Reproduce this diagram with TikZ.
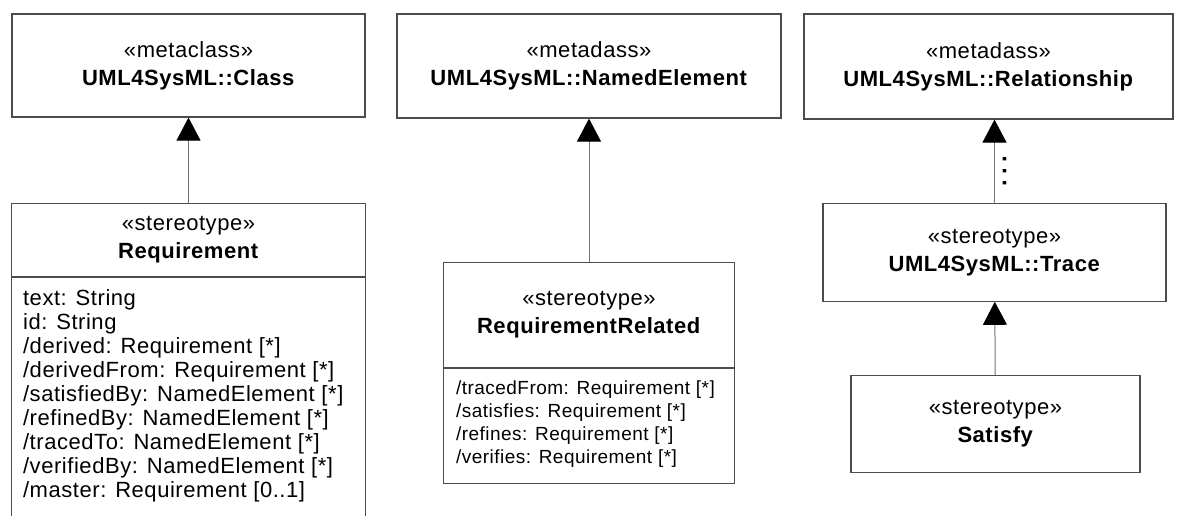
\documentclass[tikz,border=0pt]{standalone}
\usepackage{fontspec}
\setmainfont{Liberation Sans}[LetterSpace=2.5]
\usetikzlibrary{arrows.meta, positioning}
\tikzset{
  umlbox/.style={draw=black!70, line width=1.2pt, fill=white, align=center,
    inner sep=0pt, font=\fontsize{22}{28}\selectfont},
  umlpart/.style={draw=black!70, line width=1.2pt, inner sep=0pt},
  umlattr/.style={align=left, inner xsep=12pt, inner ysep=13pt,
    font=\fontsize{22}{24}\selectfont},
  umlinherit/.style={-{Triangle[length=23pt, width=24pt, color=black]}, line width=1pt, black!55},
  umldots/.style={font=\bfseries\fontsize{24}{24}\selectfont, text=black, inner sep=0pt, rotate=90},
}

\begin{document}
\begin{tikzpicture}[x=1pt, y=-1pt]
  \useasboundingbox (0,0) rectangle (1184,515);
  % Requirement
  \node[umlbox, minimum width=353pt, minimum height=103pt] (cls) at (188.5,65.5) {«metaclass»\\\textbf{UML4SysML::Class}};
  \node[umlbox, minimum width=354pt, minimum height=73pt, below=85pt of cls] (req) {«stereotype»\\\textbf{Requirement}};
  \node[umlpart, minimum width=354pt, minimum height=245pt, below=0pt of req] (reqattr) {};
  \node[umlattr, anchor=north west] (reqlist) at (reqattr.north west) {text: String\\id: String\\/derived: Requirement [*]\\/derivedFrom: Requirement [*]\\/satisfiedBy: NamedElement [*]\\/refinedBy: NamedElement [*]\\/tracedTo: NamedElement [*]\\/verifiedBy: NamedElement [*]\\/master: Requirement [0..1]};
  % RequirementRelated
  \node[umlbox, minimum width=384pt, minimum height=104pt] (named) at (589,66) {«metadass»\\\textbf{UML4SysML::NamedElement}};
  \node[umlbox, minimum width=291pt, minimum height=105pt, below=143pt of named] (reqrel) {«stereotype»\\\textbf{RequirementRelated}};
  \node[umlpart, minimum width=291pt, minimum height=115pt, below=0pt of reqrel] (relattr) {};
  \node[umlattr, font=\fontsize{19}{23}\selectfont, inner xsep=13pt, anchor=north west] (rellist) at (relattr.north west) {/tracedFrom: Requirement [*]\\/satisfies: Requirement [*]\\/refines: Requirement [*]\\/verifies: Requirement [*]};
  % Trace und Satisfy
  \node[umlbox, minimum width=369pt, minimum height=105pt] (rel) at (988.5,66.5) {«metadass»\\\textbf{UML4SysML::Relationship}};
  \node[umlbox, minimum width=343pt, minimum height=98pt, below=83pt of rel, xshift=6pt] (trace) {«stereotype»\\\textbf{UML4SysML::Trace}};
  \node[umlbox, minimum width=289pt, minimum height=97pt, below=73pt of trace, xshift=1pt] (satisfy) {«stereotype»\\\textbf{Satisfy}};
  \draw[umlinherit] (req) -- (cls);
  \draw[umlinherit] (reqrel) -- (named);
  \draw[umlinherit] (trace.north) -- (trace.north |- rel.south) node[pos=0.38, xshift=10pt, umldots] (dots) {.\hspace{5pt}.\hspace{5pt}.};
  \draw[umlinherit] (satisfy) -- (trace);
\end{tikzpicture}
\end{document}
